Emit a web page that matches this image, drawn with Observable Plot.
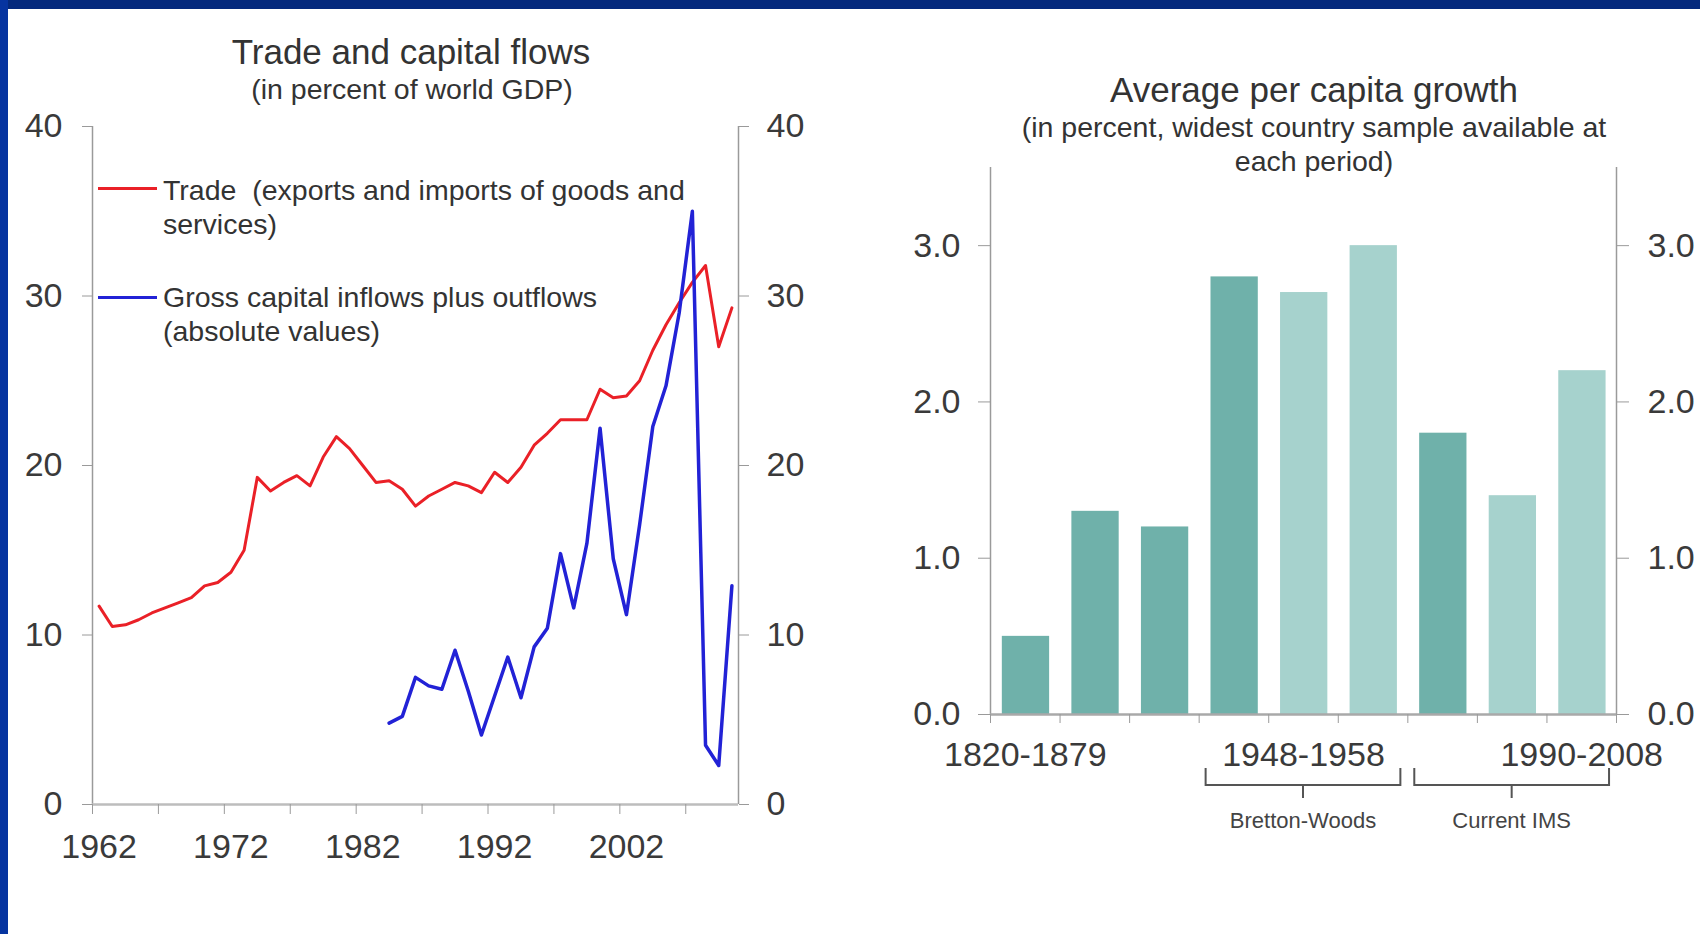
<!DOCTYPE html>
<html>
<head>
<meta charset="utf-8">
<script src="https://cdn.jsdelivr.net/npm/d3@7"></script>
<script src="https://cdn.jsdelivr.net/npm/@observablehq/plot@0.6"></script>
<style>
  html, body { margin: 0; padding: 0; background: #fff; }
  #wrap { position: relative; width: 1700px; height: 934px; overflow: hidden; background: #fff;
          font-family: "Liberation Sans", Arial, sans-serif; color: #333; }
  #topbar { position: absolute; left: 0; top: 0; width: 1700px; height: 9px; background: #04297d; }
  #leftbar { position: absolute; left: 0; top: 0; width: 8px; height: 934px; background: #0634a0; }
  .c { position: absolute; white-space: pre; line-height: 1; transform: translate(-50%, -50%); }
  .l { position: absolute; white-space: pre; line-height: 1; transform: translate(0, -50%); }
  .sw { position: absolute; height: 3px; }
  .chart { position: absolute; }
</style>
</head>
<body>
<div id="wrap">
  <div id="topbar"></div>
  <div id="leftbar"></div>

  <div class="c" style="left:411px;top:51px;font-size:35px;">Trade and capital flows</div>
  <div class="c" style="left:412px;top:89px;font-size:28.5px;">(in percent of world GDP)</div>

  <div class="c" style="left:1314px;top:89px;font-size:35px;">Average per capita growth</div>
  <div class="c" style="left:1314px;top:127px;font-size:28.5px;">(in percent, widest country sample available at</div>
  <div class="c" style="left:1314px;top:161px;font-size:28.5px;">each period)</div>

  <div id="left" class="chart" style="left:0px;top:100px;"></div>
  <div id="right" class="chart" style="left:860px;top:150px;"></div>

  <div class="sw" style="left:98px;top:187px;width:59px;background:#ea2027;"></div>
  <div class="l" style="left:163px;top:190px;font-size:28.5px;">Trade  (exports and imports of goods and</div>
  <div class="l" style="left:163px;top:224px;font-size:28.5px;">services)</div>
  <div class="sw" style="left:98px;top:296px;width:59px;background:#2222d6;"></div>
  <div class="l" style="left:163px;top:297px;font-size:28.5px;">Gross capital inflows plus outflows</div>
  <div class="l" style="left:163px;top:331px;font-size:28.5px;">(absolute values)</div>
</div>

<script>
// ---------- Left chart data ----------
const tradeYears = [1962,1963,1964,1965,1966,1967,1968,1969,1970,1971,1972,1973,1974,1975,1976,1977,1978,1979,1980,1981,
  1982,1983,1984,1985,1986,1987,1988,1989,1990,1991,1992,1993,1994,1995,1996,1997,1998,1999,2000,2001,
  2002,2003,2004,2005,2006,2007,2008,2009,2010];
const tradeValues = [11.7,10.5,10.6,10.9,11.3,11.6,11.9,12.2,12.9,13.1,13.7,15.0,19.3,18.5,19.0,19.4,18.8,20.5,21.7,21.0,
  20.0,19.0,19.1,18.6,17.6,18.2,18.6,19.0,18.8,18.4,19.6,19.0,19.9,21.2,21.9,22.7,22.7,22.7,24.5,24.0,
  24.1,25.0,26.8,28.3,29.6,30.8,31.8,27.0,29.3];
const capitalYears = [1984,1985,1986,1987,1988,1989,1990,1991,1992,1993,1994,1995,1996,1997,1998,1999,2000,2001,
  2002,2003,2004,2005,2006,2007,2008,2009,2010];
const capitalValues = [4.8,5.2,7.5,7.0,6.8,9.1,6.7,4.1,6.4,8.7,6.3,9.3,10.4,14.8,11.6,15.4,22.2,14.5,
  11.2,16.5,22.3,24.7,29.0,35.0,3.5,2.3,12.9];
const leftYTicks = [0, 10, 20, 30, 40];
const leftXLabels = [1962, 1972, 1982, 1992, 2002];

// ---------- Right chart data ----------
const periods = ["1820-1879","1880-1913","1914-1947","1948-1972","1948-1958","1959-1972","1973-2008","1973-1989","1990-2008"];
const growth = [0.5, 1.3, 1.2, 2.8, 2.7, 3.0, 1.8, 1.4, 2.2];
const periodKind = ["full","full","full","full","sub","sub","full","sub","sub"];
const rightYTicks = [0, 1, 2, 3];
const regimes = ["Bretton-Woods", "Current IMS"];
const regimeFirst = [3, 6];
const regimeLast = [5, 8];

// ---------- Styles ----------
const FONT = "'Liberation Sans', Arial, sans-serif";
const AXIS = "#9a9a9a";
const TXT = "#3a3a3a";
const kindColor = {full: "#6fb1aa", sub: "#a6d2cd"};
const noText = () => "";

const trade = tradeYears.map((year, i) => ({year, value: tradeValues[i]}));
const capital = capitalYears.map((year, i) => ({year, value: capitalValues[i]}));
const firstYear = tradeYears[0] - 0.5;
const lastYear = tradeYears[tradeYears.length - 1] + 0.5;
const boundaryTicks = tradeYears.filter((y, i) => i % 5 === 0).map(y => y - 0.5);

const left = Plot.plot({
  width: 860, height: 780,
  marginLeft: 92, marginRight: 122, marginTop: 26, marginBottom: 76,
  style: {fontFamily: FONT, fontSize: "34px", color: TXT, background: "transparent", overflow: "visible"},
  x: {domain: [firstYear, lastYear]},
  y: {domain: [0, 40]},
  marks: [
    Plot.ruleX([firstYear], {stroke: AXIS, strokeWidth: 1.5}),
    Plot.ruleX([lastYear], {stroke: AXIS, strokeWidth: 1.5}),
    Plot.ruleY([0], {stroke: "#bdbdbd", strokeWidth: 2.5}),
    Plot.axisY({anchor: "left", ticks: leftYTicks, tickSize: 10, tickPadding: 20, fontSize: 34,
                stroke: AXIS, color: TXT, label: null, tickFormat: d => String(d)}),
    Plot.axisY({anchor: "right", ticks: leftYTicks, tickSize: 10, tickPadding: 18, fontSize: 34,
                stroke: AXIS, color: TXT, label: null, tickFormat: d => String(d)}),
    Plot.axisX({ticks: boundaryTicks, tickSize: 10, tickFormat: noText, stroke: AXIS, label: null}),
    Plot.axisX({ticks: leftXLabels, tickSize: 0, tickPadding: 29, fontSize: 34, color: TXT,
                label: null, tickFormat: d => String(d)}),
    Plot.line(trade, {x: "year", y: "value", stroke: "#ea2027", strokeWidth: 3}),
    Plot.line(capital, {x: "year", y: "value", stroke: "#2222d6", strokeWidth: 3.5})
  ]
});
document.getElementById("left").appendChild(left);

// ---------- Right chart ----------
const bars = periods.map((p, i) => ({i, period: p, value: growth[i], kind: periodKind[i]}));
const nCat = periods.length;
const catBounds = d3.range(nCat + 1);
const labelled = periods.map((p, i) => i).filter(i => i % 4 === 0);

const right = Plot.plot({
  width: 840, height: 700,
  marginLeft: 130, marginRight: 84, marginTop: 17, marginBottom: 136,
  style: {fontFamily: FONT, fontSize: "34px", color: TXT, background: "transparent", overflow: "visible"},
  x: {domain: [0, nCat]},
  y: {domain: [0, 3.5]},
  marks: [
    Plot.rectY(bars, {x1: d => d.i + 0.17, x2: d => d.i + 0.85, y1: 0, y2: "value",
                      fill: d => kindColor[d.kind]}),
    Plot.ruleX([0], {stroke: AXIS, strokeWidth: 1.5}),
    Plot.ruleX([nCat], {stroke: AXIS, strokeWidth: 1.5}),
    Plot.ruleY([0], {stroke: "#a9a9a9", strokeWidth: 2.5}),
    Plot.axisY({anchor: "left", ticks: rightYTicks, tickSize: 12, tickPadding: 18, fontSize: 34,
                stroke: AXIS, color: TXT, label: null, tickFormat: d3.format(".1f")}),
    Plot.axisY({anchor: "right", ticks: rightYTicks, tickSize: 12, tickPadding: 19, fontSize: 34,
                stroke: AXIS, color: TXT, label: null, tickFormat: d3.format(".1f")}),
    Plot.axisX({ticks: catBounds, tickSize: 9, tickFormat: noText, stroke: AXIS, label: null}),
    Plot.axisX({ticks: labelled.map(i => i + 0.5), tickSize: 0, tickPadding: 27, fontSize: 34, color: TXT,
                label: null, tickFormat: v => periods[Math.round(v - 0.5)]})
  ]
});
document.getElementById("right").appendChild(right);

// regime brackets below the category axis, positioned with the chart's own scales
const xs = right.scale("x"), ys = right.scale("y");
const svg = d3.select(right);
const y0 = ys.apply(0);
regimes.forEach((name, k) => {
  const xa = xs.apply(regimeFirst[k] + 0.1);
  const xb = xs.apply(regimeLast[k] + 1 - 0.1);
  const xm = (xa + xb) / 2;
  svg.append("path")
    .attr("d", `M${xa},${y0 + 54}V${y0 + 71}H${xb}V${y0 + 54}M${xm},${y0 + 71}V${y0 + 84}`)
    .attr("fill", "none").attr("stroke", "#555").attr("stroke-width", 2);
  svg.append("text")
    .attr("x", xm).attr("y", y0 + 106).attr("dy", "0.35em")
    .attr("text-anchor", "middle")
    .attr("font-size", 22).attr("fill", "#444").attr("font-family", FONT)
    .text(name);
});
</script>
</body>
</html>
